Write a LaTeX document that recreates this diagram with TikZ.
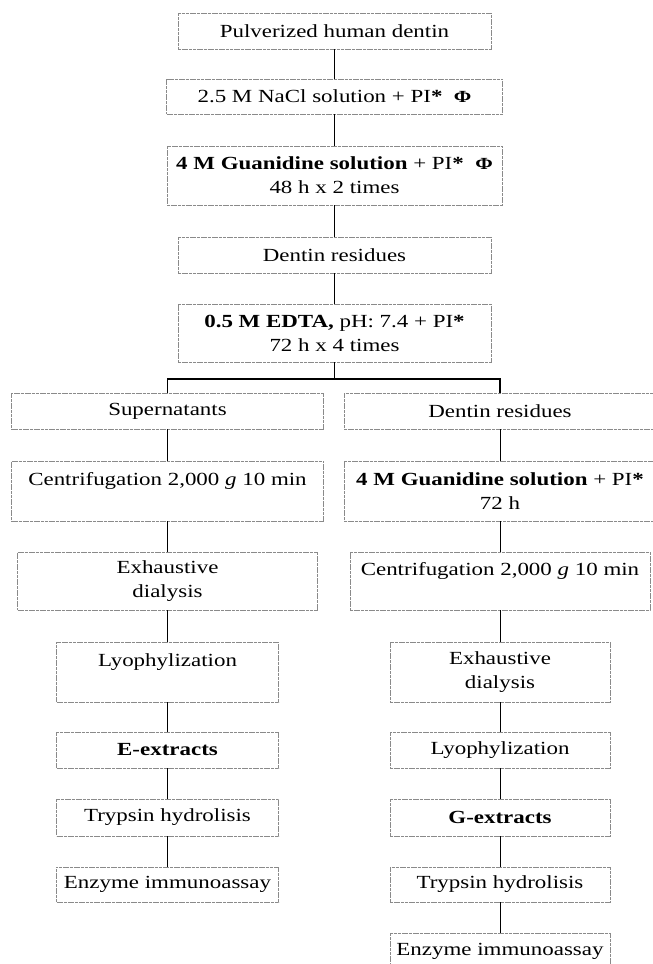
\documentclass[tikz,border=0pt]{standalone}
\usepackage{fontspec}
\setmainfont[FakeStretch=1.24]{Liberation Serif}
\usetikzlibrary{positioning}
\definecolor{edgegray}{HTML}{8A8A8A}
\newcommand\phimark{{\fontsize{17}{17}\selectfont\textbf{Φ}}}

\begin{document}
\begin{tikzpicture}[x=1pt,y=-1pt,
  box/.style={draw=edgegray,line width=0.7pt,dash pattern=on 3pt off 0.7pt,inner sep=0pt,align=center,font=\fontsize{18.5}{24}\selectfont},
  link/.style={line width=1pt},
  branch/.style={line width=1.8pt}]
  \useasboundingbox (0,0) rectangle (653,964);
  \node[box,minimum width=313pt,minimum height=36pt] (pulv) at (334.5,31) {Pulverized human dentin};
  \node[box,minimum width=336pt,minimum height=35pt] (nacl) at (334.5,96.5) {2.5 M NaCl solution + PI\textbf{*}\ \ \phimark};
  \node[box,minimum width=335pt,minimum height=59pt] (guanid) at (334.5,175.5) {\textbf{4 M Guanidine solution} + PI\textbf{*}\ \ \phimark\\48 h x 2 times};
  \node[box,minimum width=313pt,minimum height=36pt] (resid) at (334.5,255) {Dentin residues};
  \node[box,minimum width=313pt,minimum height=58pt] (edta) at (334.5,333) {\textbf{0.5 M EDTA,} pH: 7.4 + PI\textbf{*}\\72 h x 4 times};
  \coordinate (split) at (334.5,379);

  \node[box,minimum width=312pt,minimum height=36pt] (super) at (167.5,411) {Supernatants};
  \node[box,minimum width=312pt,minimum height=60pt] (centL) at (167.5,491) {Centrifugation 2,000 \textit{g} 10 min\\~};
  \node[box,minimum width=300pt,minimum height=58pt] (dialL) at (167.5,581) {Exhaustive\\dialysis};
  \node[box,minimum width=222pt,minimum height=60pt] (lyoL) at (167.5,672) {Lyophylization\\~};
  \node[box,minimum width=222pt,minimum height=36pt] (eextr) at (167.5,750) {\textbf{E-extracts}};
  \node[box,minimum width=222pt,minimum height=37pt] (trypL) at (167.5,817.5) {Trypsin hydrolisis};
  \node[box,minimum width=222pt,minimum height=35pt] (enzL) at (167.5,884.5) {Enzyme immunoassay};

  \node[box,minimum width=312pt,minimum height=36pt] (resR) at (500,411) {Dentin residues};
  \node[box,minimum width=312pt,minimum height=60pt] (guanR) at (500,491) {\textbf{4 M Guanidine solution} + PI\textbf{*}\\72 h};
  \node[box,minimum width=300pt,minimum height=58pt] (centR) at (500,581) {Centrifugation 2,000 \textit{g} 10 min\\~};
  \node[box,minimum width=220pt,minimum height=60pt] (dialR) at (500,672) {Exhaustive\\dialysis};
  \node[box,minimum width=220pt,minimum height=36pt] (lyoR) at (500,750) {Lyophylization};
  \node[box,minimum width=220pt,minimum height=37pt] (gextr) at (500,817.5) {\textbf{G-extracts}};
  \node[box,minimum width=220pt,minimum height=35pt] (trypR) at (500,884.5) {Trypsin hydrolisis};
  \node[box,minimum width=220pt,minimum height=37pt] (enzR) at (500,951.5) {Enzyme immunoassay};

  \draw[link] (pulv) -- (nacl) (nacl) -- (guanid) (guanid) -- (resid) (resid) -- (edta) (edta) -- (split);
  \draw[branch] (super.north) |- (split) -| (resR.north);
  \draw[link] (super) -- (centL) (centL) -- (dialL) (dialL) -- (lyoL) (lyoL) -- (eextr) (eextr) -- (trypL) (trypL) -- (enzL);
  \draw[link] (resR) -- (guanR) (guanR) -- (centR) (centR) -- (dialR) (dialR) -- (lyoR) (lyoR) -- (gextr) (gextr) -- (trypR) (trypR) -- (enzR);
\end{tikzpicture}
\end{document}
